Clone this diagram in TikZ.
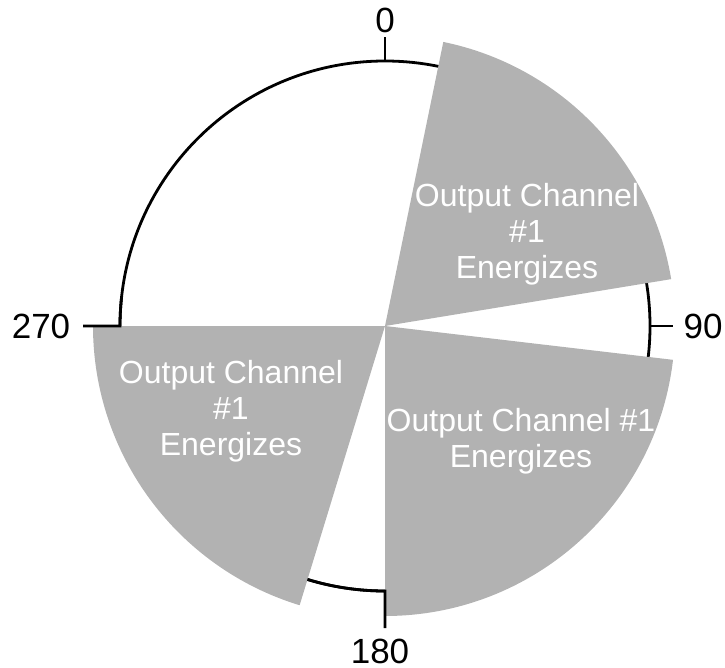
\documentclass[tikz,border=0pt]{standalone}
\usepackage{fontspec}
\setmainfont{Liberation Sans}
\definecolor{sectorgray}{RGB}{178,178,178}
\begin{document}
\begin{tikzpicture}[x=1pt,y=-1pt,
  ring/.style={draw=black,line width=2.8pt},
  tickline/.style={draw=black,line width=2.8pt},
  sector/.style={fill=sectorgray,draw=none},
  sectortext/.style={text=white,align=center,inner sep=0pt,font=\fontsize{32}{36}\selectfont},
  anglelabel/.style={text=black,inner sep=0pt,font=\fontsize{35}{38}\selectfont}]
\useasboundingbox (0,0) rectangle (725,668);
\coordinate (c) at (385,326);
% circle
\draw[ring] (c) circle[radius=265];
% sectors
\fill[sector] (c) -- ++(-78.4:290) arc[start angle=-78.4,end angle=-9.3,radius=290] -- cycle;
\fill[sector] (c) -- ++(6.7:290) arc[start angle=6.7,end angle=90,radius=290] -- cycle;
\fill[sector] (c) -- ++(107:292) arc[start angle=107,end angle=180,radius=292] -- cycle;
% ticks
\coordinate (t0a) at (385,61);
\coordinate (t0b) at (385,37);
\coordinate (t90a) at (650,326);
\coordinate (t90b) at (673,326);
\coordinate (t180a) at (385,591);
\coordinate (t180b) at (385,628);
\coordinate (t270a) at (120,326);
\coordinate (t270b) at (83,326);
\draw[tickline] (t0a) -- (t0b);
\draw[tickline] (t90a) -- (t90b);
\draw[tickline,line join=miter] (t180b) -- (t180a) arc[start angle=90,end angle=107,radius=265];
\draw[tickline,line join=miter] (t270b) -- (t270a) arc[start angle=180,end angle=186,radius=265];
% labels
\node[anglelabel] (l0) at (385,20) {0};
\node[anglelabel] (l90) at (703,326) {90};
\node[anglelabel] (l180) at (380,651) {180};
\node[anglelabel] (l270) at (41,326) {270};
% sector texts
\node[sectortext] (s1) at (527,234) {Output Channel\\\#1\\Energizes};
\node[sectortext] (s2) at (521,441) {Output Channel \#1\\Energizes};
\node[sectortext] (s3) at (231,411) {Output Channel\\\#1\\Energizes};
\end{tikzpicture}
\end{document}
